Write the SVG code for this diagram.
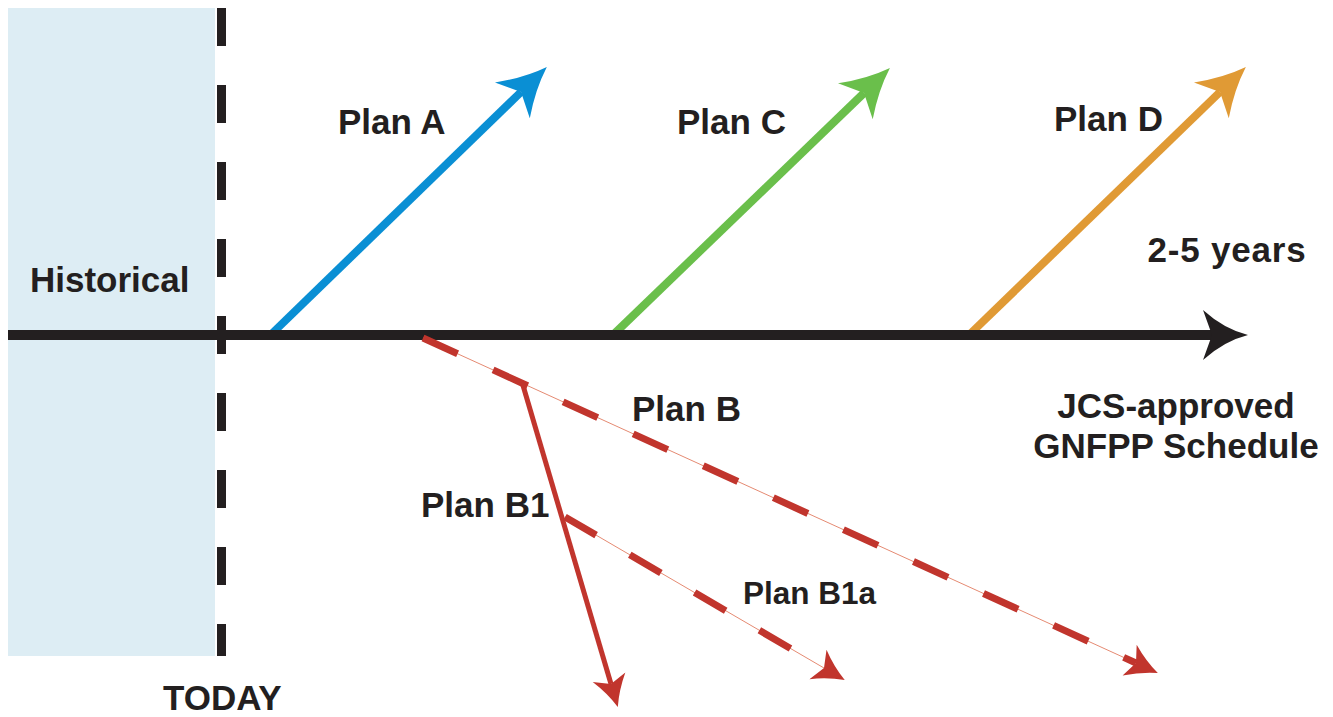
<svg xmlns="http://www.w3.org/2000/svg" width="1333" height="717" viewBox="0 0 1333 717">
  <style>
    .lbl { font-family: "Liberation Sans", Arial, sans-serif; font-weight: bold; fill: #231f20; font-size: 35px; }
    .small { font-size: 31.5px; }
    .plan { fill: none; stroke-width: 8; stroke-linecap: butt; }
    .red { stroke: #c1352d; fill: none; }
    .thin { stroke: #e58a72; stroke-width: 1; fill: none; }
  </style>
  <defs>
    <marker id="mBlue" markerUnits="userSpaceOnUse" orient="auto" refX="0" refY="0" markerWidth="1" markerHeight="1" overflow="visible">
      <path d="M36,0 Q12,-8 -12,-25 L0,0 L-12,25 Q12,8 36,0 Z" fill="#0a8fd4"/>
    </marker>
    <marker id="mGreen" markerUnits="userSpaceOnUse" orient="auto" refX="0" refY="0" markerWidth="1" markerHeight="1" overflow="visible">
      <path d="M36,0 Q12,-8 -12,-25 L0,0 L-12,25 Q12,8 36,0 Z" fill="#6abf4b"/>
    </marker>
    <marker id="mOrange" markerUnits="userSpaceOnUse" orient="auto" refX="0" refY="0" markerWidth="1" markerHeight="1" overflow="visible">
      <path d="M36,0 Q12,-8 -12,-25 L0,0 L-12,25 Q12,8 36,0 Z" fill="#e09a35"/>
    </marker>
    <marker id="mBlack" markerUnits="userSpaceOnUse" orient="auto" refX="0" refY="0" markerWidth="1" markerHeight="1" overflow="visible">
      <path d="M36,0 Q12,-6 -9,-25 L0,0 L-9,25 Q12,6 36,0 Z" fill="#231f20"/>
    </marker>
    <marker id="mRed" markerUnits="userSpaceOnUse" orient="auto" refX="0" refY="0" markerWidth="1" markerHeight="1" overflow="visible">
      <path d="M24,0 Q8,-6 -7,-17 L0,0 L-7,17 Q8,6 24,0 Z" fill="#c1352d"/>
    </marker>
  </defs>

  <g id="historical">
    <rect x="8" y="8" width="207" height="648" fill="#ddedf4"/>
    <text class="lbl" x="30" y="292">Historical</text>
  </g>

  <g id="today">
    <line x1="221.5" y1="8" x2="221.5" y2="656" stroke="#231f20" stroke-width="9" stroke-dasharray="38 39"/>
    <text class="lbl" x="163" y="710" font-size="33">TODAY</text>
  </g>

  <g id="connectors">
    <path id="planA-arrow" class="plan" stroke="#0a8fd4" d="M270.5,335 L521,92" marker-end="url(#mBlue)"/>
    <path id="planC-arrow" class="plan" stroke="#6abf4b" d="M613,335 L864,93" marker-end="url(#mGreen)"/>
    <path id="planD-arrow" class="plan" stroke="#e09a35" d="M969,335 L1220,92" marker-end="url(#mOrange)"/>
    <path id="timeline" d="M8,335 L1212,335" stroke="#231f20" stroke-width="10" fill="none" marker-end="url(#mBlack)"/>
    <g id="planB-arrow">
      <path class="thin" d="M423,338 L1136,663" marker-end="url(#mRed)"/>
      <path class="red" stroke-width="7" stroke-dasharray="38 39" d="M423,338 L1136,663"/>
    </g>
    <path id="planB1-arrow" class="red" stroke-width="5" d="M522,382 L611,684" marker-end="url(#mRed)"/>
    <g id="planB1a-arrow">
      <path class="thin" d="M565,517 L824,668" marker-end="url(#mRed)"/>
      <path class="red" stroke-width="7" stroke-dasharray="36 39" d="M565,517 L824,668"/>
    </g>
  </g>

  <g id="labels">
    <text id="lblA" class="lbl" x="338" y="134">Plan A</text>
    <text id="lblC" class="lbl" x="677" y="134">Plan C</text>
    <text id="lblD" class="lbl" x="1054" y="131">Plan D</text>
    <text id="lblYears" class="lbl" x="1227" y="262" text-anchor="middle" letter-spacing="0.8">2-5 years</text>
    <text id="lblSchedule" class="lbl" text-anchor="middle"><tspan x="1176" y="418">JCS-approved</tspan><tspan x="1176" y="458">GNFPP Schedule</tspan></text>
    <text id="lblB" class="lbl" x="632" y="421">Plan B</text>
    <text id="lblB1" class="lbl" x="421" y="517">Plan B1</text>
    <text id="lblB1a" class="lbl small" x="743" y="604">Plan B1a</text>
  </g>
</svg>
